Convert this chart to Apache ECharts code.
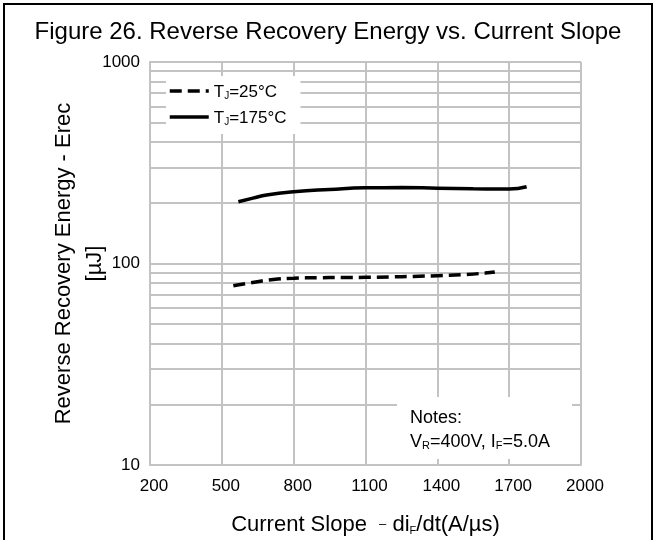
<!DOCTYPE html>
<html>
<head>
<meta charset="utf-8">
<script src="https://cdn.jsdelivr.net/npm/echarts@6/dist/echarts.min.js"></script>
<style>html,body{margin:0;padding:0;background:#fff;}#c{width:656px;height:540px;}</style>
</head>
<body>
<div id="c"></div>
<script>
// ---- data ----
const xTicks = [200, 500, 800, 1100, 1400, 1700, 2000];
const yMajorTicks = [10, 100, 1000];
const yMinorTicks = [20, 30, 40, 50, 60, 70, 80, 90, 200, 300, 400, 500, 600, 700, 800, 900];

const tj25X = [548, 620, 715, 800, 900, 1000, 1100, 1200, 1300, 1400, 1500, 1600, 1640];
const tj25Y = [77.5, 80.2, 83.3, 84.5, 85.0, 85.2, 85.4, 85.8, 86.3, 87.0, 88.0, 89.6, 90.7];

const tj175X = [569, 630, 687, 800, 950, 1100, 1250, 1400, 1550, 1700, 1773];
const tj175Y = [202.6, 211, 218.8, 227, 233, 237.5, 238, 236.5, 235, 234, 240.5];

const seriesNames = ['TJ25', 'TJ175'];
const legendLabels = { TJ25: '{a|T}{s|J}{a|=25°C}', TJ175: '{a|T}{s|J}{a|=175°C}' };

function pairs(xs, ys) { return xs.map((x, i) => [x, ys[i]]); }

const FONT = '"Liberation Sans", Arial, sans-serif';
const GRID_COLOR = '#c3c3c3';
const DASH = [12, 6];

const chart = echarts.init(document.getElementById('c'), null, { renderer: 'canvas' });
chart.setOption({
  animation: false,
  backgroundColor: '#fff',
  textStyle: { fontFamily: FONT, color: '#000' },
  title: {
    text: 'Figure 26. Reverse Recovery Energy vs. Current Slope',
    left: 'center',
    top: 20,
    padding: 0,
    textStyle: { fontFamily: FONT, fontSize: 24, fontWeight: 'normal', color: '#000' }
  },
  grid: { left: 150, right: 75, top: 62, bottom: 75, containLabel: false, outerBoundsMode: 'none' },
  legend: {
    data: [
      { name: 'TJ25', itemStyle: { opacity: 0 }, lineStyle: { color: '#000', width: 3.5, type: DASH } },
      { name: 'TJ175', itemStyle: { opacity: 0 }, lineStyle: { color: '#000', width: 3.5, type: 'solid' } }
    ],
    z: 10,
    orient: 'vertical',
    left: 166,
    top: 76,
    padding: [8, 14, 7, 2],
    backgroundColor: '#fff',
    itemWidth: 39,
    itemHeight: 14,
    itemGap: 9,
    formatter: n => legendLabels[n],
    textStyle: {
      fontFamily: FONT, color: '#000',
      rich: {
        a: { fontSize: 17, fontFamily: FONT, color: '#000', lineHeight: 20, verticalAlign: 'bottom' },
        s: { fontSize: 10, fontFamily: FONT, color: '#000', lineHeight: 10, verticalAlign: 'bottom' }
      }
    }
  },
  xAxis: {
    type: 'value',
    min: 200, max: 2000, interval: 300,
    axisLine: { show: true, lineStyle: { color: GRID_COLOR, width: 2 } },
    axisTick: { show: false },
    splitLine: { show: true, lineStyle: { color: GRID_COLOR, width: 2 } },
    axisLabel: { fontSize: 17, color: '#000', fontFamily: FONT, margin: 13,
      padding: [0, 0, 0, 8], formatter: v => String(v) },
    name: '{a|Current Slope  }{d|–}{a| di}{s|F}{a|/dt(A/µs)}',
    nameLocation: 'middle',
    nameGap: 49,
    nameMoveOverlap: false,
    nameTextStyle: {
      rich: {
        a: { fontSize: 22, fontFamily: FONT, color: '#000', lineHeight: 22, verticalAlign: 'bottom' },
        d: { fontSize: 13, fontFamily: FONT, color: '#000', lineHeight: 22, verticalAlign: 'bottom', padding: [0, 0, 5, 0] },
        s: { fontSize: 11, fontFamily: FONT, color: '#000', lineHeight: 10, verticalAlign: 'bottom' }
      }
    }
  },
  yAxis: {
    type: 'log',
    logBase: 10,
    min: 10, max: 1000,
    axisLine: { show: true, lineStyle: { color: GRID_COLOR, width: 2 } },
    axisTick: { show: false },
    splitLine: { show: true, lineStyle: { color: GRID_COLOR, width: 2 } },
    axisLabel: { fontSize: 17, color: '#000', fontFamily: FONT, margin: 10, formatter: v => String(v) },
    name: 'Reverse Recovery Energy - Erec\n[µJ]',
    nameLocation: 'middle',
    nameRotate: 90,
    nameGap: 40,
    nameMoveOverlap: false,
    nameTextStyle: { fontSize: 22, fontFamily: FONT, color: '#000', lineHeight: 31 }
  },
  series: [
    {
      name: 'minorGrid',
      type: 'line',
      data: [],
      z: 1,
      silent: true,
      markLine: {
        z: 1,
        silent: true,
        symbol: ['none', 'none'],
        label: { show: false },
        lineStyle: { color: GRID_COLOR, width: 2, type: 'solid' },
        emphasis: { disabled: true },
        data: yMinorTicks.map(v => ({ yAxis: v }))
      }
    },
    {
      name: 'TJ25',
      type: 'line',
      smooth: true,
      symbol: 'none',
      z: 3,
      lineStyle: { color: '#000', width: 3.5, type: DASH },
      itemStyle: { color: '#000' },
      data: pairs(tj25X, tj25Y)
    },
    {
      name: 'TJ175',
      type: 'line',
      smooth: true,
      symbol: 'none',
      z: 3,
      lineStyle: { color: '#000', width: 3.5, type: 'solid' },
      itemStyle: { color: '#000' },
      data: pairs(tj175X, tj175Y)
    }
  ],
  graphic: [
    {
      type: 'rect',
      z: 100,
      silent: true,
      shape: { x: 4, y: 4, width: 648, height: 560 },
      style: { fill: 'none', stroke: '#000', lineWidth: 2 }
    },
    {
      type: 'rect',
      z: 50,
      silent: true,
      shape: { x: 397, y: 397, width: 175, height: 62 },
      style: { fill: '#fff' }
    },
    {
      type: 'text',
      z: 51,
      silent: true,
      left: 410,
      top: 403,
      style: {
        text: '{a|Notes:}\n{a|V}{s|R}{a|=400V, I}{s|F}{a|=5.0A}',
        fill: '#000',
        font: '18px ' + FONT,
        lineHeight: 24,
        rich: {
          a: { fontSize: 18, fontFamily: FONT, fill: '#000', color: '#000', lineHeight: 24, verticalAlign: 'bottom' },
          s: { fontSize: 11, fontFamily: FONT, fill: '#000', color: '#000', lineHeight: 12, verticalAlign: 'bottom' }
        }
      }
    }
  ]
});
</script>
</body>
</html>
